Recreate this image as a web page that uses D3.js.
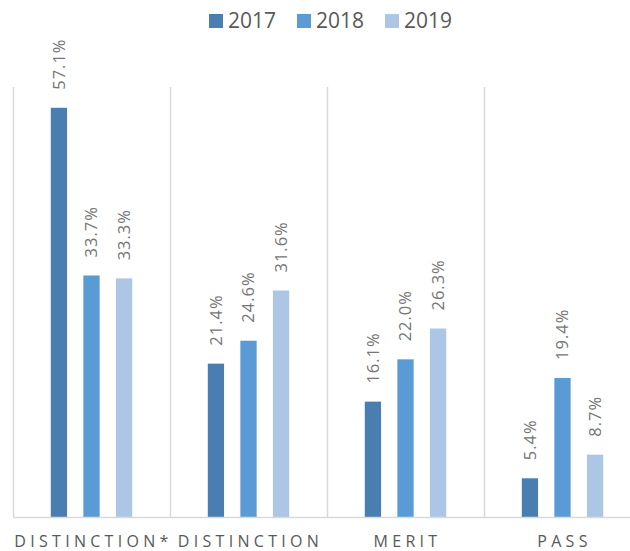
<!DOCTYPE html>
<html>
<head>
<meta charset="utf-8">
<script src="https://cdn.jsdelivr.net/npm/d3@7"></script>
<style>
  body { margin: 0; background: #fff; }
  svg { display: block; font-family: "Open Sans", sans-serif; }
</style>
</head>
<body>
<div id="chart"></div>
<script>
// Chart data
const categories = ['DISTINCTION*', 'DISTINCTION', 'MERIT', 'PASS'];
const years = ['2017', '2018', '2019'];
const values2017 = [57.1, 21.4, 16.1, 5.4];
const values2018 = [33.7, 24.6, 22.0, 19.4];
const values2019 = [33.3, 31.6, 26.3, 8.7];
const colors = ['#4a7eb1', '#5b9bd5', '#aec6e6'];

const seriesValues = [values2017, values2018, values2019];

const width = 630, height = 551;
const plot = {left: 13, right: 641, top: 87, bottom: 517};

const svg = d3.select('#chart')
    .append('svg')
    .attr('width', width)
    .attr('height', height);

// Scales
const x = d3.scaleBand()
    .domain(categories)
    .range([plot.left, plot.right]);

const xInner = d3.scaleBand()
    .domain(years)
    .range([0, x.bandwidth()])
    .paddingInner(0.5)
    .paddingOuter(1.16);

const y = d3.scaleLinear()
    .domain([0, 60])
    .range([plot.bottom, plot.top]);

// Vertical gridlines between categories
const boundaries = categories.map(c => x(c)).concat([plot.right - 2]);
svg.selectAll('.grid')
    .data(boundaries)
    .enter()
    .append('line')
    .attr('x1', d => Math.round(d) + 0.5)
    .attr('x2', d => Math.round(d) + 0.5)
    .attr('y1', plot.top)
    .attr('y2', plot.bottom)
    .attr('stroke', '#d9d9d9')
    .attr('stroke-width', 1.5);

// Bars
const groups = svg.selectAll('.cat')
    .data(categories)
    .enter()
    .append('g')
    .attr('transform', d => `translate(${x(d)},0)`);

groups.selectAll('rect')
    .data((c, i) => years.map((yr, j) => ({year: yr, value: seriesValues[j][i], color: colors[j]})))
    .enter()
    .append('rect')
    .attr('x', d => xInner(d.year))
    .attr('y', d => y(d.value))
    .attr('width', xInner.bandwidth())
    .attr('height', d => plot.bottom - y(d.value))
    .attr('fill', d => d.color);

// Value labels (rotated)
groups.selectAll('.label')
    .data((c, i) => years.map((yr, j) => ({year: yr, value: seriesValues[j][i]})))
    .enter()
    .append('text')
    .attr('transform', d => `translate(${xInner(d.year) + xInner.bandwidth() / 2},${y(d.value) - 18}) rotate(-90)`)
    .attr('dy', '0.36em')
    .attr('text-anchor', 'start')
    .style('font-size', '16.5px')
    .style('letter-spacing', '1px')
    .attr('fill', '#767676')
    .text(d => d.value.toFixed(1) + '%');

// Baseline
svg.append('line')
    .attr('x1', plot.left)
    .attr('x2', width)
    .attr('y1', plot.bottom + 0.5)
    .attr('y2', plot.bottom + 0.5)
    .attr('stroke', '#d9d9d9')
    .attr('stroke-width', 1.5);

// Category labels
svg.selectAll('.cat-label')
    .data(categories)
    .enter()
    .append('text')
    .attr('x', d => x(d) + x.bandwidth() / 2 + 2)
    .attr('y', 547)
    .attr('text-anchor', 'middle')
    .style('font-size', '16px')
    .style('letter-spacing', '4.3px')
    .attr('fill', '#595959')
    .text(d => d);

// Legend
const legendX = [209, 297, 385];
const legend = svg.selectAll('.legend')
    .data(years)
    .enter()
    .append('g')
    .attr('transform', (d, i) => `translate(${legendX[i]},14)`);

legend.append('rect')
    .attr('width', 14)
    .attr('height', 14)
    .attr('fill', (d, i) => colors[i]);

legend.append('text')
    .attr('x', 19)
    .attr('y', 14)
    .style('font-size', '21px')
    .attr('fill', '#595959')
    .text(d => d);
</script>
</body>
</html>
